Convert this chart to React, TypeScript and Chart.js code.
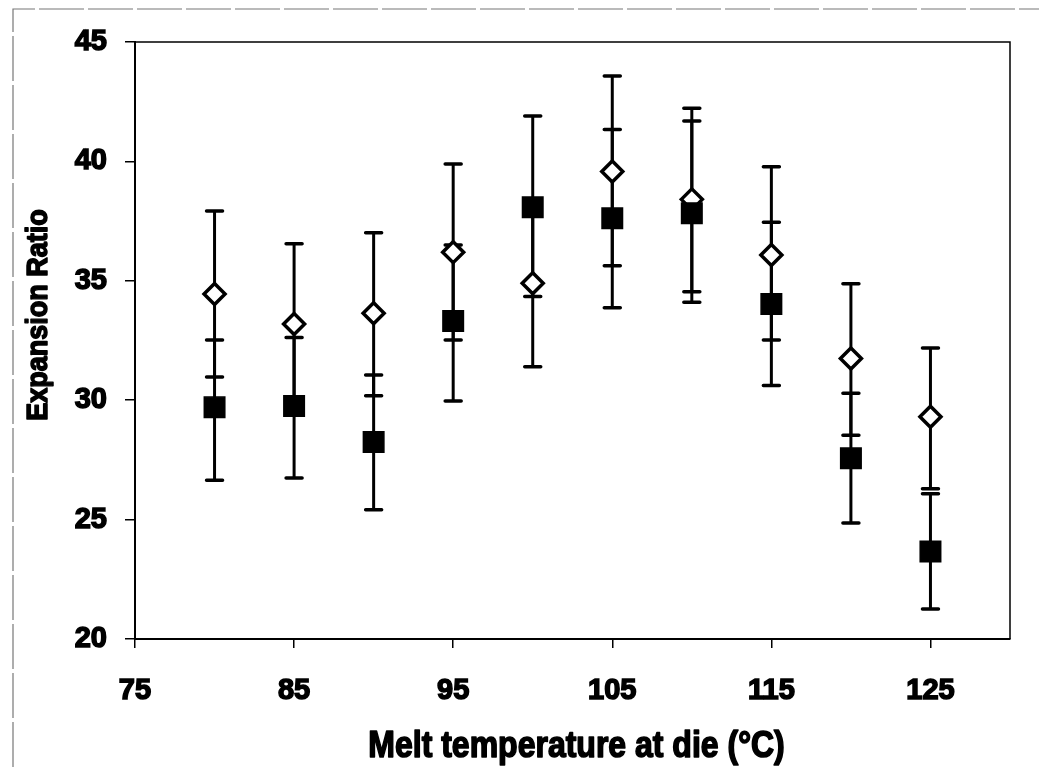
import React, { useEffect, useRef } from "react";
import { Chart, registerables } from "chart.js";

Chart.register(...registerables);

// ---- data ----
const temperatures = [80, 85, 90, 95, 100, 105, 110, 115, 120, 125];

const openMean = [34.45, 33.19, 33.64, 36.2, 34.9, 39.58, 38.41, 36.08, 31.75, 29.31];
const openLow = [30.97, 29.83, 30.19, 32.52, 31.4, 35.63, 34.54, 32.52, 28.53, 26.29];
const openHigh = [37.92, 36.55, 37.01, 39.89, 38.4, 43.58, 42.23, 39.78, 34.88, 32.19];

const filledMean = [29.7, 29.76, 28.25, 33.32, 38.08, 37.62, 37.83, 34.03, 27.57, 23.66];
const filledLow = [26.65, 26.74, 25.41, 29.97, 34.34, 33.87, 34.1, 30.62, 24.86, 21.26];
const filledHigh = [32.52, 32.63, 31.06, 36.5, 41.9, 41.34, 41.69, 37.45, 30.29, 26.08];

const xTickValues = [75, 85, 95, 105, 115, 125];
const yTickValues = [20, 25, 30, 35, 40, 45];

const xTitle = "Melt temperature at die (°C)";
const yTitle = "Expansion Ratio";

const FONT = "'Liberation Sans', Arial, Helvetica, sans-serif";

export default function App() {
  const ref = useRef<HTMLCanvasElement>(null);

  useEffect(() => {
    if (!ref.current) return;

    const errorBars = {
      id: "errorBars",
      beforeDatasetsDraw(chart: any) {
        const { ctx, scales } = chart;
        const x = scales.x;
        const y = scales.y;
        ctx.save();
        ctx.strokeStyle = "#000";
        const series: [number[], number[]][] = [
          [openLow, openHigh],
          [filledLow, filledHigh],
        ];
        series.forEach(([lo, hi]) => {
          temperatures.forEach((t, i) => {
            const px = x.getPixelForValue(t);
            const pl = y.getPixelForValue(lo[i]);
            const ph = y.getPixelForValue(hi[i]);
            ctx.lineWidth = 3;
            ctx.lineCap = "butt";
            ctx.beginPath();
            ctx.moveTo(px, pl);
            ctx.lineTo(px, ph);
            ctx.stroke();
            ctx.lineWidth = 3.5;
            ctx.lineCap = "round";
            ctx.beginPath();
            ctx.moveTo(px - 8, pl);
            ctx.lineTo(px + 8, pl);
            ctx.moveTo(px - 8, ph);
            ctx.lineTo(px + 8, ph);
            ctx.stroke();
          });
        });
        ctx.restore();
      },
    };

    const decor = {
      id: "decor",
      beforeDraw(chart: any) {
        const { ctx, width, height, chartArea } = chart;
        ctx.save();
        ctx.fillStyle = "#fff";
        ctx.fillRect(0, 0, width, height);
        // scanned outer frame
        ctx.strokeStyle = "#777";
        ctx.lineWidth = 1.2;
        ctx.setLineDash([45, 4]);
        ctx.beginPath();
        ctx.moveTo(13, height);
        ctx.lineTo(13, 9);
        ctx.lineTo(width, 9);
        ctx.stroke();
        ctx.setLineDash([]);
        // top and right sides of plot box
        ctx.strokeStyle = "#000";
        ctx.lineWidth = 1.5;
        ctx.beginPath();
        ctx.moveTo(chartArea.left, chartArea.top);
        ctx.lineTo(chartArea.right, chartArea.top);
        ctx.lineTo(chartArea.right, chartArea.bottom);
        ctx.stroke();
        ctx.restore();
      },
      afterDraw(chart: any) {
        const { ctx, chartArea } = chart;
        ctx.save();
        ctx.fillStyle = "#000";
        ctx.strokeStyle = "#000";
        ctx.lineWidth = 1.4;
        ctx.lineJoin = "round";
        ctx.textAlign = "center";
        ctx.textBaseline = "middle";
        // y axis title
        ctx.save();
        ctx.font = `bold 27px ${FONT}`;
        ctx.translate(39, 315);
        ctx.rotate(-Math.PI / 2);
        ctx.scale(1, 1.1);
        ctx.fillText(yTitle, 0, 0);
        ctx.strokeText(yTitle, 0, 0);
        ctx.restore();
        // x axis title
        ctx.save();
        ctx.font = `bold 32px ${FONT}`;
        ctx.translate((chartArea.left + chartArea.right) / 2 + 4, 747);
        ctx.scale(1, 1.16);
        ctx.fillText(xTitle, 0, 0);
        ctx.strokeText(xTitle, 0, 0);
        ctx.restore();
        ctx.restore();
      },
    };

    const chart = new Chart(ref.current, {
      type: "scatter",
      data: {
        datasets: [
          {
            label: "Filled",
            data: temperatures.map((t, i) => ({ x: t, y: filledMean[i] })),
            pointStyle: "rect",
            pointRadius: 14.5,
            backgroundColor: "#000",
            borderColor: "#000",
            borderWidth: 1.5,
            showLine: false,
          },
          {
            label: "Open",
            data: temperatures.map((t, i) => ({ x: t, y: openMean[i] })),
            pointStyle: "rectRot",
            pointRadius: 10.5,
            backgroundColor: "#fff",
            borderColor: "#000",
            borderWidth: 3.5,
            showLine: false,
          },
        ],
      },
      options: {
        responsive: false,
        animation: false,
        devicePixelRatio: 1,
        layout: { padding: { top: 42, right: 29, left: 0, bottom: 0 } },
        plugins: {
          legend: { display: false },
          tooltip: { enabled: false },
        },
        scales: {
          x: {
            type: "linear",
            min: 75,
            max: 130,
            afterBuildTicks: (scale: any) => {
              scale.ticks = xTickValues.map((v) => ({ value: v }));
            },
            afterFit: (scale: any) => {
              scale.height = 128;
            },
            ticks: {
              font: { family: FONT, size: 29, weight: "bold" },
              color: "#000",
              textStrokeColor: "#000",
              textStrokeWidth: 1.5,
              padding: 26,
              maxRotation: 0,
              autoSkip: false,
            },
            grid: {
              display: true,
              drawOnChartArea: false,
              drawTicks: true,
              tickLength: 9,
              color: "#000",
              lineWidth: 1.5,
            },
            border: { display: true, color: "#000", width: 2 },
            title: { display: false, text: xTitle },
          },
          y: {
            type: "linear",
            min: 20,
            max: 45,
            afterBuildTicks: (scale: any) => {
              scale.ticks = yTickValues.map((v) => ({ value: v }));
            },
            afterFit: (scale: any) => {
              scale.width = 135;
            },
            ticks: {
              font: { family: FONT, size: 29, weight: "bold" },
              color: "#000",
              textStrokeColor: "#000",
              textStrokeWidth: 1.5,
              padding: 18,
              autoSkip: false,
            },
            grid: {
              display: true,
              drawOnChartArea: false,
              drawTicks: true,
              tickLength: 10,
              color: "#000",
              lineWidth: 1.5,
            },
            border: { display: true, color: "#000", width: 2 },
            title: { display: false, text: yTitle },
          },
        },
      },
      plugins: [decor, errorBars],
    });

    return () => chart.destroy();
  }, []);

  return (
    <div
      style={{
        position: "fixed",
        left: 0,
        top: 0,
        width: 1039,
        height: 767,
        background: "#fff",
      }}
    >
      <canvas ref={ref} width={1039} height={767} style={{ display: "block" }} />
    </div>
  );
}
